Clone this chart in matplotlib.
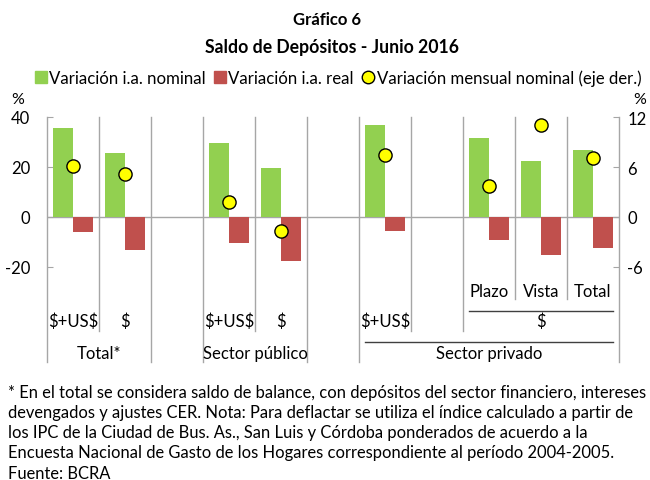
import matplotlib
matplotlib.use("Agg")
import matplotlib.pyplot as plt
from matplotlib.lines import Line2D
import numpy as np

plt.rcParams['font.family'] = ['Lato', 'DejaVu Sans']
plt.rcParams['axes.unicode_minus'] = False

# slots: Total* ($+US$, $), blank, Sector publico ($+US$, $), blank,
# Sector privado ($+US$, blank, Plazo, Vista, Total)
nominal = [35.5, 25.5, np.nan, 29.6, 19.5, np.nan, 36.9, np.nan, 31.6, 22.6, 26.9]
real = [-6.0, -13.0, np.nan, -10.2, -17.4, np.nan, -5.4, np.nan, -9.0, -15.1, -12.3]
mensual = [6.1, 5.2, np.nan, 1.8, -1.7, np.nan, 7.4, np.nan, 3.7, 11.0, 7.1]

nivel1 = {8: 'Plazo', 9: 'Vista', 10: 'Total'}
nivel2 = {0: r'\$+US\$', 1: r'\$', 3: r'\$+US\$', 4: r'\$', 6: r'\$+US\$', 9: r'\$'}
nivel3 = {0.5: 'Total*', 3.5: 'Sector público', 8: 'Sector privado'}

green = '#92D050'
red = '#C0504D'
grey = '#A6A6A6'
fs = 11.5

W, H = 650, 481
fig = plt.figure(figsize=(6.5, 4.81), dpi=100)
ax = fig.add_axes([47 / W, 1 - 278 / H, (619 - 47) / W, 160 / H])

x = np.arange(len(nominal))
bw = 0.385
ax.bar(x - bw / 2, nominal, width=bw, color=green, zorder=2)
ax.bar(x + bw / 2, real, width=bw, color=red, zorder=2)
ax.set_xlim(-0.5, 10.5)
ax.set_ylim(-24, 40)
ax.set_yticks([-20, 0, 20, 40])
ax.set_xticks([])
ax.axhline(0, color=grey, lw=1, zorder=1)
for s in ax.spines.values():
    s.set_visible(False)
ax.tick_params(axis='y', direction='in', length=4, color=grey, labelsize=fs + 0.5, pad=12)

ax2 = ax.twinx()
ax2.plot(x, mensual, 'o', ms=9.5, mfc='#FFFF00', mec='black', mew=1, zorder=5)
ax2.set_ylim(-7.2, 12)
ax2.set_yticks([-6, 0, 6, 12])
for s in ax2.spines.values():
    s.set_visible(False)
ax2.tick_params(axis='y', direction='in', length=4, color=grey, labelsize=fs + 0.5, pad=6)

# category axis: dividers and labels below the plot (data units of left axis)
bottoms = [-58, -45.6, -58, -58, -45.6, -58, -58, -45.6, -45.6, -32.8, -32.8, -58]
for b, yb in zip(np.arange(-0.5, 11, 1.0), bottoms):
    ax.plot([b, b], [40, yb], color=grey, lw=1, clip_on=False, zorder=1)
ax.plot([7.615, 10.385], [-37.6, -37.6], color='#404040', lw=1, clip_on=False)
ax.plot([5.615, 10.385], [-50, -50], color='#404040', lw=1, clip_on=False)
for k, t in nivel1.items():
    ax.text(k, -29.6, t, ha='center', va='center', fontsize=fs + 0.5, clip_on=False)
for k, t in nivel2.items():
    ax.text(k, -41.6, t, ha='center', va='center', fontsize=fs + 0.5, clip_on=False)
for k, t in nivel3.items():
    ax.text(k, -54.4, t, ha='center', va='center', fontsize=fs + 0.5, clip_on=False)

fig.text(327 / W, 1 - 20 / H, 'Gráfico 6', ha='center', va='center', fontsize=fs + 0.5, fontweight='bold')
fig.text(332 / W, 1 - 48 / H, 'Saldo de Depósitos - Junio 2016', ha='center', va='center',
         fontsize=fs + 1.2, fontweight='bold')
fig.text(18 / W, 1 - 100 / H, '%', ha='center', va='center', fontsize=fs)
fig.text(640 / W, 1 - 100 / H, '%', ha='center', va='center', fontsize=fs)

handles = [Line2D([], [], marker='s', ls='', ms=9, color=green),
           Line2D([], [], marker='s', ls='', ms=9, color=red),
           Line2D([], [], marker='o', ls='', ms=9, mfc='#FFFF00', mec='black')]
labels = ['Variación i.a. nominal', 'Variación i.a. real', 'Variación mensual nominal (eje der.)']
fig.legend(handles, labels, loc='center', bbox_to_anchor=(338 / W, 1 - 79 / H), ncol=3,
           frameon=False, fontsize=fs + 0.6, handlelength=0.7, handletextpad=0.15,
           columnspacing=0.5, borderpad=0)

nota = ('* En el total se considera saldo de balance, con depósitos del sector financiero, intereses\n'
        'devengados y ajustes CER. Nota: Para deflactar se utiliza el índice calculado a partir de\n'
        'los IPC de la Ciudad de Bus. As., San Luis y Córdoba ponderados de acuerdo a la\n'
        'Encuesta Nacional de Gasto de los Hogares correspondiente al período 2004-2005.\n'
        'Fuente: BCRA')
fig.text(8 / W, 1 - 385 / H, nota, ha='left', va='top', fontsize=11.9, linespacing=1.32)

fig.savefig('out.png', dpi=100)
